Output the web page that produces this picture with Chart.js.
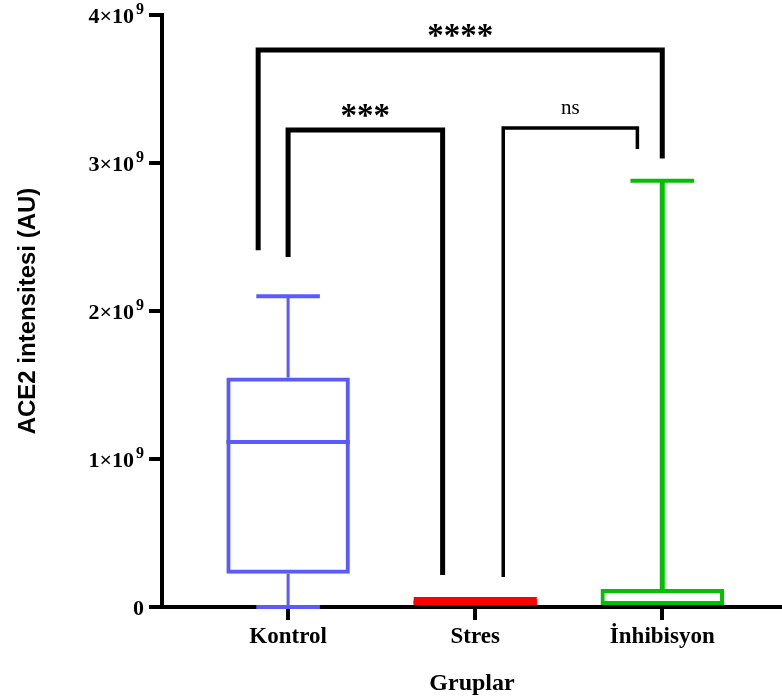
<!DOCTYPE html>
<html>
<head>
<meta charset="utf-8">
<script src="https://cdn.jsdelivr.net/npm/chart.js@4/dist/chart.umd.min.js"></script>
<style>
  html, body { margin: 0; padding: 0; background: #fff; }
</style>
</head>
<body>
<canvas id="c" width="782" height="699"></canvas>
<script>
// Box-plot summaries of ACE2 intensity (AU) per group
const groups      = ['Kontrol', 'Stres', 'İnhibisyon'];
const whiskerLow  = [0, 0, 0];
const q1          = [0.225e9, 0, 0];
const medians     = [1.115e9, 0.03e9, 0];
const q3          = [1.55e9, 0.068e9, 0.122e9];
const whiskerHigh = [2.10e9, 0.068e9, 2.88e9];

// Value axis ticks (mantissa × 10^exponent)
const yTickValues    = [0, 1e9, 2e9, 3e9, 4e9];
const yTickBases     = ['0', '1×10', '2×10', '3×10', '4×10'];
const yTickExponents = ['', '9', '9', '9', '9'];

// Significance brackets (x in group index units, y in AU)
const compLabels   = ['****', '***', 'ns'];
const compFromX    = [-0.16, 0, 1.15];
const compToX      = [2.0, 0.826, 1.867];
const compLevel    = [3.764e9, 3.223e9, 3.236e9];
const compLeftEnd  = [2.41e9, 2.365e9, 0.203e9];
const compRightEnd = [3.03e9, 0.216e9, 3.095e9];

// Styling
const serif = '"Liberation Serif", "Times New Roman", serif';
const groupColors   = ['#5a5aff', '#ff0000', '#00c000'];
const groupFills    = ['rgba(0,0,0,0)', '#ff0000', 'rgba(0,0,0,0)'];
const whiskerWidths = [3, 3, 5];
const capHalf       = 0.17;          // half cap width, in group units
const compWidths    = [5, 5, 3.5];
const compFonts     = ['bold 33px ' + serif, 'bold 33px ' + serif, '21px ' + serif];

const boxDetails = {
  id: 'boxDetails',
  afterDatasetsDraw(chart) {
    const { ctx, scales: { x, y } } = chart;
    const meta = chart.getDatasetMeta(0);
    ctx.save();
    ctx.lineCap = 'butt';
    groups.forEach((g, i) => {
      const bar = meta.data[i];
      const cx = x.getPixelForValue(i);
      const half = bar.width / 2;
      ctx.strokeStyle = groupColors[i];
      // median line
      if (medians[i] > q1[i] && medians[i] < q3[i]) {
        ctx.lineWidth = 4;
        const my = y.getPixelForValue(medians[i]);
        ctx.beginPath();
        ctx.moveTo(cx - half, my);
        ctx.lineTo(cx + half, my);
        ctx.stroke();
      }
      const capL = x.getPixelForValue(i - capHalf);
      const capR = x.getPixelForValue(i + capHalf);
      // upper whisker
      if (whiskerHigh[i] > q3[i]) {
        const top = y.getPixelForValue(whiskerHigh[i]);
        ctx.lineWidth = whiskerWidths[i];
        ctx.beginPath();
        ctx.moveTo(cx, y.getPixelForValue(q3[i]));
        ctx.lineTo(cx, top);
        ctx.stroke();
        ctx.lineWidth = 4;
        ctx.beginPath();
        ctx.moveTo(capL, top);
        ctx.lineTo(capR, top);
        ctx.stroke();
      }
      // lower whisker
      if (whiskerLow[i] < q1[i]) {
        const bot = y.getPixelForValue(whiskerLow[i]);
        ctx.lineWidth = whiskerWidths[i];
        ctx.beginPath();
        ctx.moveTo(cx, y.getPixelForValue(q1[i]));
        ctx.lineTo(cx, bot);
        ctx.stroke();
        ctx.lineWidth = 4;
        ctx.beginPath();
        ctx.moveTo(capL, bot);
        ctx.lineTo(capR, bot);
        ctx.stroke();
      }
    });

    // significance brackets
    ctx.strokeStyle = '#000';
    ctx.fillStyle = '#000';
    ctx.lineJoin = 'miter';
    compLabels.forEach((label, k) => {
      const xl = x.getPixelForValue(compFromX[k]);
      const xr = x.getPixelForValue(compToX[k]);
      const yb = y.getPixelForValue(compLevel[k]);
      ctx.lineWidth = compWidths[k];
      ctx.beginPath();
      ctx.moveTo(xl, y.getPixelForValue(compLeftEnd[k]));
      ctx.lineTo(xl, yb);
      ctx.lineTo(xr, yb);
      ctx.lineTo(xr, y.getPixelForValue(compRightEnd[k]));
      ctx.stroke();
      ctx.font = compFonts[k];
      ctx.textAlign = 'center';
      ctx.textBaseline = 'alphabetic';
      const m = ctx.measureText(label);
      const centerY = yb - 19;
      const baseY = centerY + (m.actualBoundingBoxAscent - m.actualBoundingBoxDescent) / 2;
      ctx.fillText(label, (xl + xr) / 2, baseY);
    });
    ctx.restore();
  },
  afterDraw(chart) {
    // value-axis labels with a raised exponent
    const { ctx, scales: { y } } = chart;
    const right = y.right - 18;
    ctx.save();
    ctx.fillStyle = '#000';
    ctx.textBaseline = 'alphabetic';
    ctx.textAlign = 'right';
    yTickValues.forEach((v, i) => {
      const py = y.getPixelForValue(v);
      const base = py + 8;
      let r = right;
      if (yTickExponents[i]) {
        ctx.font = 'bold 16px ' + serif;
        ctx.fillText(yTickExponents[i], r, base - 9);
        r -= ctx.measureText(yTickExponents[i]).width + 2;
      }
      ctx.font = 'bold 22px ' + serif;
      ctx.fillText(yTickBases[i], r, base);
    });
    ctx.restore();
  }
};

new Chart(document.getElementById('c'), {
  type: 'bar',
  data: {
    datasets: [{
      data: groups.map((g, i) => ({ x: i, y: [q1[i], q3[i]] })),
      backgroundColor: groupFills,
      borderColor: groupColors,
      borderWidth: 4,
      borderSkipped: false,
      barPercentage: 0.66,
      categoryPercentage: 1
    }]
  },
  options: {
    responsive: false,
    animation: false,
    devicePixelRatio: 1,
    layout: { padding: { top: 15, left: 0, right: 0, bottom: 0 } },
    plugins: { legend: { display: false }, tooltip: { enabled: false } },
    scales: {
      x: {
        type: 'linear',
        min: -0.674,
        max: 2.64,
        offset: false,
        afterBuildTicks: s => { s.ticks = groups.map((g, i) => ({ value: i })); },
        afterFit: s => { s.height = 92; },
        ticks: {
          callback: v => groups[v],
          font: { family: serif, weight: 'bold', size: 23 },
          color: '#000',
          padding: 3,
          maxRotation: 0,
          autoSkip: false
        },
        grid: { offset: false, drawOnChartArea: false, drawTicks: true, tickLength: 13, lineWidth: 4, color: '#000' },
        border: { display: true, width: 4, color: '#000' },
        title: {
          display: true,
          text: 'Gruplar',
          font: { family: serif, weight: 'bold', size: 24 },
          color: '#000',
          padding: { top: 0, bottom: 1 }
        }
      },
      y: {
        min: 0,
        max: 4e9,
        afterBuildTicks: s => { s.ticks = yTickValues.map(v => ({ value: v })); },
        afterFit: s => { s.width = 162; },
        ticks: { display: false },
        grid: { drawOnChartArea: false, drawTicks: true, tickLength: 13, lineWidth: 4, color: '#000' },
        border: { display: true, width: 4, color: '#000' },
        title: {
          display: true,
          text: 'ACE2 intensitesi (AU)',
          font: { family: '"Liberation Sans", Arial, sans-serif', weight: 'bold', size: 24 },
          color: '#000',
          padding: { top: 14, bottom: 0 }
        }
      }
    }
  },
  plugins: [boxDetails]
});
</script>
</body>
</html>
